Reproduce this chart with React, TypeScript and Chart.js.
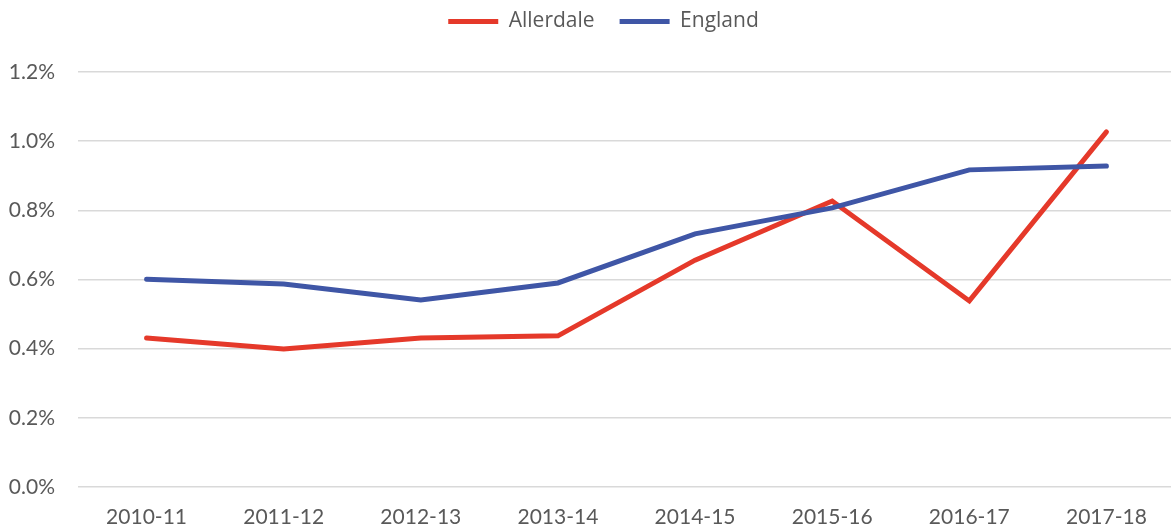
import React, { useEffect, useRef } from "react";
import { Chart, registerables } from "chart.js";

Chart.register(...registerables);

const categories = ["2010-11", "2011-12", "2012-13", "2013-14", "2014-15", "2015-16", "2016-17", "2017-18"];
const allerdale = [0.431, 0.399, 0.431, 0.437, 0.656, 0.827, 0.538, 1.027];
const england = [0.601, 0.587, 0.541, 0.59, 0.732, 0.807, 0.917, 0.928];
const yTicks = [0, 0.2, 0.4, 0.6, 0.8, 1.0, 1.2];

const RED = "#e5392a";
const BLUE = "#3f56a6";
const TEXT = "#595959";

const legendHeightPlugin = {
  id: "legendHeight",
  beforeUpdate(chart: any) {
    const lg = chart.legend;
    if (lg && !lg.__wrapped) {
      const orig = lg.fit;
      lg.fit = function (this: any) {
        orig.call(this);
        this.height = 86;
      };
      lg.__wrapped = true;
    }
  },
  afterLayout(chart: any) {
    const lg = chart.legend;
    if (lg) {
      lg.left += 16;
      lg.right += 16;
    }
  },
};

export default function App() {
  const ref = useRef<HTMLCanvasElement | null>(null);

  useEffect(() => {
    if (!ref.current) return;
    const chart = new Chart(ref.current, {
      type: "line",
      data: {
        labels: categories,
        datasets: [
          {
            label: "England",
            data: england,
            borderColor: BLUE,
            backgroundColor: BLUE,
            borderWidth: 5,
            pointRadius: 0,
            tension: 0,
            borderCapStyle: "round",
          },
          {
            label: "Allerdale",
            data: allerdale,
            borderColor: RED,
            backgroundColor: RED,
            borderWidth: 5,
            pointRadius: 0,
            tension: 0,
            borderCapStyle: "round",
          },
        ],
      },
      options: {
        responsive: false,
        animation: false,
        layout: { padding: { left: 0, right: 1, top: -14, bottom: 0 } },
        plugins: {
          tooltip: { enabled: false },
          legend: {
            position: "top",
            labels: {
              color: TEXT,
              font: { family: "'Open Sans'", size: 21 },
              boxWidth: 50,
              boxHeight: 5,
              padding: 25,
              generateLabels: () => [
                { text: "Allerdale", fillStyle: RED, strokeStyle: RED, lineWidth: 0, fontColor: TEXT, datasetIndex: 1 },
                { text: "England", fillStyle: BLUE, strokeStyle: BLUE, lineWidth: 0, fontColor: TEXT, datasetIndex: 0 },
              ],
            },
          },
        },
        scales: {
          x: {
            offset: true,
            grid: { display: false, drawTicks: false },
            border: { display: false },
            ticks: {
              color: TEXT,
              font: { family: "Lato", size: 21 },
              padding: 18,
              maxRotation: 0,
              autoSkip: false,
            },
            afterFit: (s: any) => {
              s.height = 45;
            },
          },
          y: {
            min: 0,
            max: 1.2,
            afterBuildTicks: (s: any) => {
              s.ticks = yTicks.map((v) => ({ value: v }));
            },
            grid: { color: "#d9d9d9", lineWidth: 1.5, drawTicks: false },
            border: { display: false },
            ticks: {
              color: TEXT,
              font: { family: "Lato", size: 21 },
              padding: 23,
              callback: (v: any) => Number(v).toFixed(1) + "%",
            },
            afterFit: (s: any) => {
              s.width = 78;
            },
          },
        },
      },
      plugins: [legendHeightPlugin],
    });
    return () => chart.destroy();
  }, []);

  return (
    <div style={{ position: "fixed", left: 0, top: 0, width: 1171, height: 532, overflow: "hidden", background: "#fff" }}>
      <canvas ref={ref} width={1176} height={532} style={{ display: "block", width: 1176, height: 532 }} />
    </div>
  );
}
